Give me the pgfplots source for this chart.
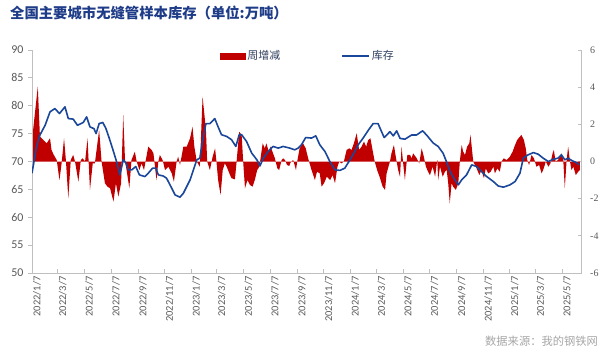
\documentclass[border=0pt]{standalone}
\usepackage{fontspec}
\setmainfont{Carlito}
\newfontfamily\cjk{Noto Sans CJK SC}
\newfontfamily\tnr{Liberation Serif}
\usepackage{pgfplots}
\pgfplotsset{compat=1.18}
\definecolor{barred}{HTML}{C00000}
\definecolor{lineblue}{HTML}{1A4799}
\definecolor{axgray}{HTML}{BFBFBF}
\definecolor{labgray}{HTML}{595959}
\definecolor{titleblue}{HTML}{1F3C88}
\definecolor{legtext}{HTML}{2F3F5F}
\definecolor{srcgray}{HTML}{A6A6A6}
\begin{document}
\begin{tikzpicture}
\useasboundingbox (0,0) rectangle (615bp,355bp);
\node[anchor=west, text=titleblue, font=\cjk\bfseries\fontsize{14.4}{16}\selectfont, inner sep=0pt] at (10bp,342bp) {全国主要城市无缝管样本库存（单位:万吨）};
\node[anchor=east, text=srcgray, font=\cjk\fontsize{11.3}{12}\selectfont, inner sep=0pt] at (598bp,14bp) {数据来源：我的钢铁网};
% right axis: weekly change (area)
\begin{axis}[
  at={(32bp,82bp)}, anchor=south west, scale only axis,
  width=549.7bp, height=223bp,
  xmin=0, xmax=180.14, ymin=-6, ymax=6,
  axis y line*=right, axis x line*=bottom,
  axis line style={axgray, line width=0.75bp},
  every tick/.style={axgray, line width=0.75bp},
  major tick length=4bp,
  xtick align=inside, ytick align=inside,
  xtick={0,8.43,17.14,25.86,34.71,43.43,52.14,60.57,69.29,78,86.86,95.57,104.29,112.86,121.57,130.29,139.14,147.86,156.57,165,173.71},
  xticklabels={2022/1/7,2022/3/7,2022/5/7,2022/7/7,2022/9/7,2022/11/7,2023/1/7,2023/3/7,2023/5/7,2023/7/7,2023/9/7,2023/11/7,2024/1/7,2024/3/7,2024/5/7,2024/7/7,2024/9/7,2024/11/7,2025/1/7,2025/3/7,2025/5/7},
  xticklabel style={rotate=90, anchor=east, font=\fontsize{10.5}{11}\selectfont, text=labgray, yshift=-5bp},
  ytick={-6,-4,-2,0,2,4,6},
  yticklabel style={font=\tnr\fontsize{10}{11}\selectfont, text=labgray, xshift=5bp},
  /pgf/number format/assume math mode=true,
  clip=false,
]
\addplot[fill=barred, draw=none] coordinates {
(0,0)(0,1.15)(1.9,4.03)(2.6,1.34)(3.7,1.16)(4.8,0.98)(5.9,1.25)(6.4,0.62)(7,0.4)(8.1,0.08)(9,-1.0)(9.7,-0.1)(10.5,1.25)(11.1,0.08)(11.9,-1.98)(12.7,0.08)(13.5,0.35)(14.1,0)(15.2,-1.09)(16,0.08)(16.6,0.17)(17.4,0)(18.2,1.25)(19,-1.53)(19.9,-0.1)(20.6,-0.1)(22,1.7)(22.8,0)(23.9,-1.17)(24.7,-1.35)(25.6,-1.44)(26.7,-2.16)(27.5,-1.17)(28.3,-1.89)(29.2,-1.17)(29.9,2.5)(30.5,0)(31,-0.46)(31.9,-1.44)(32.6,0.08)(33.7,0.53)(34.3,0)(35.2,-0.46)(35.9,-0.1)(36.7,-0.46)(38.1,0.8)(39.2,0.62)(39.8,0.44)(40.8,-1.0)(41.4,0)(41.9,0.35)(42.8,0.08)(43.6,-0.46)(44.7,-0.28)(45.8,-0.64)(46.5,-1.09)(47.4,0)(47.9,0.26)(48.5,-0.19)(49.6,0.8)(50.7,0.8)(51.8,1.25)(52.6,1.87)(53.2,0.8)(54,0)(55,-0.28)(55.9,3.49)(57.0,1.7)(57.4,0)(58.3,-0.46)(59.2,0.26)(60,0.71)(60.5,-0.1)(61,-1.0)(61.8,-1.8)(62.5,-0.46)(63.2,-0.1)(63.8,-0.28)(64.9,-0.73)(65.4,-0.9)(66.5,-0.96)(67,-0.1)(67.9,1.6)(68.7,1.43)(69.2,0)(69.8,-1.44)(70.6,-1.0)(71.4,-1.26)(72.3,-1.35)(73,-1.0)(73.8,-0.46)(74.5,-0.28)(75.6,0.98)(76.3,0.71)(76.8,0.98)(77.6,0.53)(78.2,0.8)(78.8,0.53)(79.6,0.17)(80.4,-0.37)(81,-0.46)(81.8,0.08)(82.3,0.17)(82.9,0.08)(83.6,-0.19)(84.3,-0.24)(84.7,-0.06)(85.6,0.08)(86.5,-0.46)(87,0.08)(87.7,0.71)(88.8,0.98)(89.7,0.71)(90.5,0.17)(91.6,-0.46)(92.7,-1.0)(93.4,-0.55)(94.3,-0.64)(94.9,-1.35)(95.7,-1.17)(96.6,-0.82)(97.7,-1.0)(98.5,-0.73)(99.3,-1.17)(100.1,-0.28)(100.7,0)(101.4,-0.1)(102.2,0)(103.1,0.62)(104,0.71)(104.7,0.62)(105.5,0.98)(106.4,1.52)(107.2,0.62)(108,0.8)(108.8,1.07)(109.5,0.8)(110.2,1.16)(110.9,1.25)(111.6,0.62)(112.3,0)(113.1,-0.46)(113.9,-0.82)(114.9,-1.35)(115.7,-1.53)(116.2,-0.64)(117.3,0)(117.8,0.44)(118.6,0.89)(119.3,0.17)(120.0,-0.46)(120.6,-0.82)(121.1,0.8)(121.7,-0.19)(122.2,-1.0)(123.0,0.35)(123.9,0.35)(124.4,0.17)(124.9,0.44)(126.1,0.17)(126.9,-0.1)(127.7,0.71)(128.4,0.26)(129.1,-0.28)(129.8,-0.55)(130.4,-0.73)(131.3,-0.28)(132.1,-0.82)(132.8,0.08)(133.1,-1.0)(133.7,-0.28)(134.6,-0.82)(135.3,-0.55)(135.9,-0.46)(136.4,-1.17)(136.9,-2.25)(137.5,-1.17)(138.0,-1.35)(138.9,-1.53)(139.7,-1.17)(140.2,0)(140.8,0.89)(141.3,0.53)(141.9,0.35)(142.6,0.8)(143.3,0.98)(143.7,1.43)(144.2,0.62)(144.6,0)(145.7,-0.37)(146.6,-0.73)(147.3,-0.46)(148.1,-0.9)(148.7,-0.37)(149.5,-0.64)(150.3,-0.55)(151.2,-0.28)(151.7,-0.64)(152.5,-0.37)(153.3,-0.55)(153.9,0)(154.6,0.17)(155.5,0.08)(156.6,0.26)(157.5,0.53)(158.3,0.89)(159.0,1.16)(159.9,1.34)(160.4,1.43)(161.2,1.16)(161.8,0.71)(162.3,0.08)(162.9,-0.19)(163.7,0.35)(164.5,0.17)(165.3,-0.28)(166.2,-0.19)(167.0,-0.64)(167.5,-0.46)(168.4,0)(169.2,-0.28)(169.9,-0.1)(170.6,0.44)(171.0,0.62)(171.6,0)(172.4,0.08)(173.0,0.26)(173.5,0.44)(174.1,0.08)(174.6,-1.44)(175.2,0.08)(175.7,0.8)(176.3,0)(176.8,-0.46)(177.4,-0.28)(178.2,-0.73)(179.0,-0.55)(179.5,-0.46)(179.5,0)
} \closedcycle;
\end{axis}
% left axis: inventory (line)
\begin{axis}[
  at={(32bp,82bp)}, anchor=south west, scale only axis,
  width=549.7bp, height=223bp,
  xmin=0, xmax=180.14, ymin=50, ymax=90,
  axis y line*=left, axis x line=none,
  axis line style={axgray, line width=0.75bp},
  every tick/.style={axgray, line width=0.75bp},
  major tick length=4bp,
  ytick align=outside,
  ytick={50,55,...,90},
  yticklabel style={font=\fontsize{12}{13}\selectfont, text=labgray, xshift=-1bp},
  /pgf/number format/assume math mode=true,
  legend columns=2,
  legend style={draw=none, fill=none, at={(0.502,0.973)}, anchor=center,
    font=\cjk\fontsize{11}{12}\selectfont, text=legtext,
    /tikz/every even column/.append style={column sep=59bp}},
]
\addlegendimage{legend image code/.code={\fill[barred] (0bp,-3bp) rectangle (25bp,3bp);}}
\addlegendentry{周增减}
\addplot[lineblue, line width=1.6bp, line join=round,
  legend image code/.code={\draw[lineblue, line width=1.6bp] (0bp,0bp) -- (27bp,0bp);}] coordinates {
(0,67.9)(1.5,72.7)(2.6,74.75)(4.3,76.5)(5.9,78.9)(7.5,79.5)(9,78.6)(10.8,79.8)(11.9,77.7)(13.5,77.6)(14.9,76.5)(16.8,77.0)(17.9,78.0)(19,76.2)(20.3,75.9)(21,75.0)(22,76.8)(23.2,77.0)(24.2,75.95)(25.3,74.2)(26.7,71.8)(27.7,70.0)(28.8,67.6)(29.9,70.3)(30.8,69.7)(31.6,68.5)(32.7,68.5)(34,69.1)(35.2,67.6)(37,67.3)(38.1,67.9)(39.5,68.8)(40.6,68.8)(41.4,67.6)(43,67.4)(44.1,67.0)(45.8,65.2)(46.9,64.0)(48.5,63.6)(49.6,64.3)(51.8,66.7)(52.9,68.5)(54,70.3)(55,70.6)(56,74.0)(57,76.8)(58.3,76.8)(59.9,77.7)(61,76.2)(62.1,74.8)(63.8,74.5)(65.4,73.9)(66.8,72.7)(67.9,74.8)(68.7,74.8)(70.3,73.6)(72,71.5)(73.7,70.3)(74.7,69.2)(75.8,70.6)(77.4,71.8)(79,72.7)(80.7,72.4)(82.3,72.7)(84.5,72.4)(86.1,72.1)(87.2,72.4)(88.3,73.0)(89.7,74.3)(91.6,74.2)(93,74.6)(94.3,73.0)(96,71.8)(97.6,70.0)(99.3,68.5)(100.9,68.4)(102.5,68.8)(104.2,70.3)(105.8,71.8)(106.9,73.0)(108.5,74.2)(110.2,75.6)(111.8,76.8)(113.4,76.8)(115.4,74.3)(117.3,75.35)(118.4,74.6)(119.5,75.5)(120.6,74.15)(122.2,74.0)(124.4,74.75)(126,74.75)(128,75.5)(129.3,74.75)(131.5,73.3)(133.1,72.7)(134.7,71.5)(135.8,70.0)(137,68.2)(138.6,66.7)(139.7,65.8)(140.8,66.7)(142.4,67.6)(144.1,69.4)(145.7,69.1)(147.3,68.2)(149,67.3)(151.2,66.4)(152.8,65.6)(154.5,65.4)(156.6,65.8)(158.3,66.4)(159.9,67.9)(161,70.6)(162.6,71.2)(164.3,71.6)(165.9,71.3)(167.5,70.6)(169.2,70.0)(170.8,70.4)(172.4,70.6)(173.5,71.2)(174.6,70.3)(175.7,70.6)(176.8,70.2)(178.4,69.8)(179.3,69.4)
};
\addlegendentry{库存}
\end{axis}
\end{tikzpicture}
\end{document}
